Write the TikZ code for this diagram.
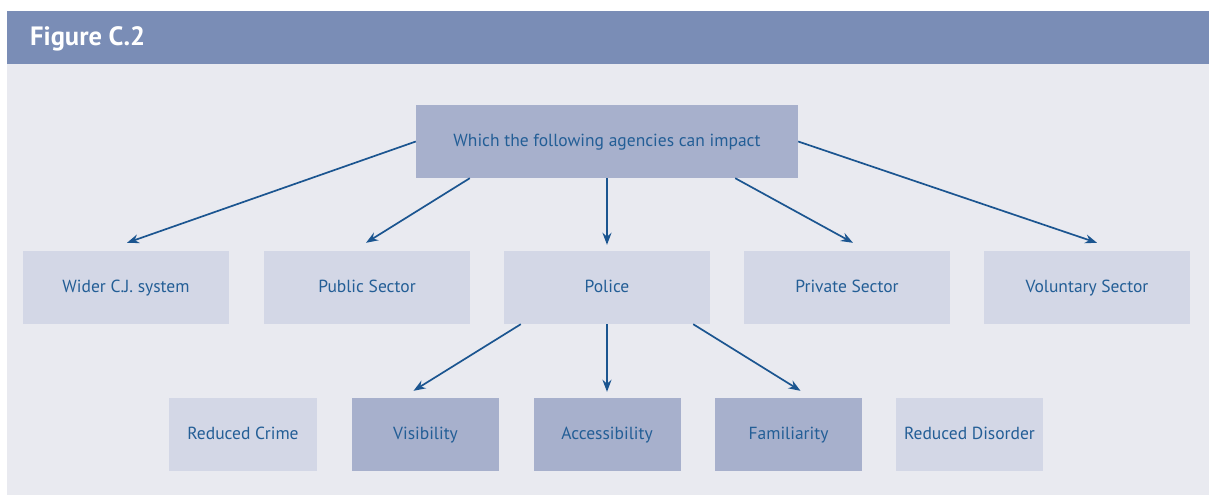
\documentclass[tikz,border=0pt]{standalone}
\usepackage{fontspec}
\setmainfont{PT Sans}
\usetikzlibrary{arrows.meta,calc}
\definecolor{hdr}{HTML}{7A8DB6}
\definecolor{panel}{HTML}{E9EAF0}
\definecolor{dark}{HTML}{A7B0CC}
\definecolor{light}{HTML}{D3D7E6}
\definecolor{txt}{HTML}{235E96}
\definecolor{ln}{HTML}{1B5590}
\tikzset{
  box/.style={rectangle, inner sep=0pt, text=txt, font=\fontsize{17.5}{20}\selectfont, text height=12.5pt, text depth=3.5pt},
  lbox/.style={box, fill=light, minimum height=73pt},
  dbox/.style={box, fill=dark, minimum height=73pt},
  conn/.style={draw=ln, line width=1.7pt, -{Stealth[length=12pt,width=9pt]}},
}
\begin{document}
\begin{tikzpicture}[x=1pt,y=-1pt]
\useasboundingbox (0,0) rectangle (1213,495);
\fill[white] (0,0) rectangle (1213,495);
\fill[panel] (7,64) rectangle (1209,495);
\fill[hdr] (7,11) rectangle (1209,64);
\node[anchor=base west, text=white, font=\fontsize{26.5}{28}\bfseries\selectfont, inner sep=0pt] (title) at (30,46) {Figure C.2};

\node[dbox, minimum width=382pt] (top) at (607,141.5) {Which the following agencies can impact};

\node[lbox, minimum width=206pt] (wider) at (126,287.5) {Wider C.J. system};
\node[lbox, minimum width=206pt] (public) at (367,287.5) {Public Sector};
\node[lbox, minimum width=206pt] (police) at (607,287.5) {Police};
\node[lbox, minimum width=206pt] (private) at (847,287.5) {Private Sector};
\node[lbox, minimum width=206pt] (vol) at (1087,287.5) {Voluntary Sector};

\node[lbox, minimum width=148pt] (rcrime) at (243,434.5) {Reduced Crime};
\node[dbox, minimum width=147pt] (vis) at (425.5,434.5) {Visibility};
\node[dbox, minimum width=147pt] (acc) at (607,434.5) {Accessibility};
\node[dbox, minimum width=147pt] (fam) at (788.5,434.5) {Familiarity};
\node[lbox, minimum width=147pt] (rdis) at (969.5,434.5) {Reduced Disorder};

\draw[conn] (top.west) -- ($(wider.north)+(1,-8)$);
\draw[conn] ($(top.south west)+(54,0)$) -- ($(public.north)+(-1,-8)$);
\draw[conn] (top.south) -- ($(police.north)+(0,-6)$);
\draw[conn] ($(top.south east)+(-63,0)$) -- ($(private.north)+(6,-8)$);
\draw[conn] (top.east) -- ($(vol.north)+(10,-8)$);

\draw[conn] ($(police.south west)+(17,0)$) -- ($(vis.north)+(-12,-7)$);
\draw[conn] (police.south) -- ($(acc.north)+(0,-6)$);
\draw[conn] ($(police.south east)+(-17,0)$) -- ($(fam.north)+(12,-7)$);
\end{tikzpicture}
\end{document}
